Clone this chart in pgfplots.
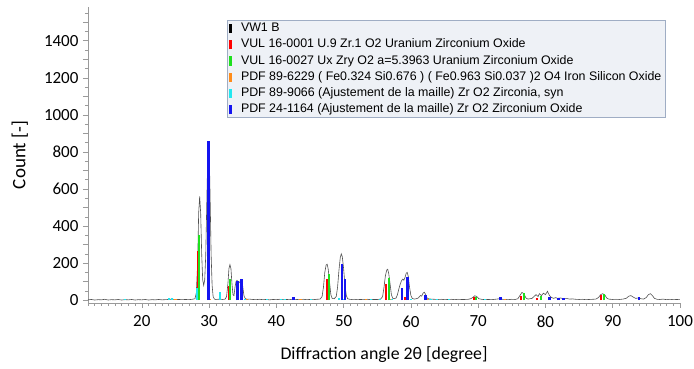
\documentclass[border=0pt]{standalone}
\usepackage{pgfplots}
\pgfplotsset{compat=1.18}
\usepackage{fontspec}
\setmainfont{Carlito}
\newfontfamily\arial{Liberation Sans}
\definecolor{cRed}{HTML}{FF0000}
\definecolor{cGreen}{HTML}{1EE01E}
\definecolor{cOrange}{HTML}{FF8C1A}
\definecolor{cCyan}{HTML}{22E8F0}
\definecolor{cBlue}{HTML}{1414F0}
\definecolor{cCurve}{HTML}{505050}
\definecolor{legFill}{HTML}{EEF1F6}
\definecolor{legDraw}{HTML}{9FADC4}
\definecolor{axGray}{HTML}{9A9A9A}
\begin{document}
\begin{tikzpicture}
\begin{axis}[
  scale only axis, width=592pt, height=296pt,
  xmin=12, xmax=100, ymin=-15, ymax=1582,
  axis lines=left, axis line style={-, axGray, line width=0.6pt},
  tick align=outside, tick style={axGray, line width=0.6pt},
  major tick length=5pt, minor tick length=3pt,
  xtick={20,30,...,100}, minor xtick={12,13,...,100},
  ytick={0,200,...,1400}, minor ytick={0,50,...,1550},
  extra y ticks={100,300,...,1500}, extra y tick labels={},
  extra y tick style={major tick length=5pt},
  /pgf/number format/assume math mode=true,
  /pgf/number format/set thousands separator={},
  tick label style={font=\fontsize{17}{20}\selectfont, black},
  xticklabel style={yshift=-4pt},
  yticklabel style={xshift=-1pt},
  xlabel={Diffraction angle 2θ [degree]},
  ylabel={Count [-]},
  every axis x label/.style={at={(axis description cs:0.5,-0.176)}, anchor=center, font=\fontsize{17.8}{21}\selectfont},
  every axis y label/.style={at={(axis description cs:-0.115,0.5)}, rotate=90, anchor=center, font=\fontsize{19}{22}\selectfont},
  legend image code/.code={\draw[#1, line width=2.6pt] (0pt,-4.6pt) -- (0pt,4.6pt);},
  legend cell align=left,
  legend style={at={(axis description cs:0.2348,0.956)}, anchor=north west,
    fill=legFill, draw=legDraw, line width=0.8pt, font=\arial\fontsize{12.4}{14}\selectfont,
    inner xsep=2pt, inner ysep=0pt, row sep=0pt, column sep=7pt,
    nodes={inner ysep=2.1pt, text height=9.2pt, text depth=2.8pt}},
]
% measured pattern
\addplot[cCurve, line width=0.6pt, forget plot] coordinates {
(12.0,2)(12.5,4)(13.0,1)(13.5,3)(14.0,2)(14.5,5)(15.0,1)(15.5,3)(16.0,2)(16.5,4)
(17.0,1)(17.5,3)(18.0,2)(18.5,4)(19.0,1)(19.5,3)(20.0,2)(20.5,4)(21.0,1)(21.5,3)
(22.0,2)(22.5,4)(23.0,2)(23.5,3)(24.0,4)(24.5,6)(25.0,3)(25.5,4)(26.0,3)(26.5,4)
(27.0,3)(27.5,5)(27.9,8)(28.1,40)(28.3,200)(28.45,470)(28.6,560)(28.75,470)(28.9,250)
(29.05,110)(29.2,80)(29.35,110)(29.5,240)(29.7,600)(29.85,850)(30.0,840)(30.15,560)
(30.3,250)(30.45,80)(30.6,20)(30.8,6)(31.0,4)(31.3,5)(31.6,6)(32.0,4)(32.4,6)
(32.6,20)(32.8,90)(32.95,170)(33.1,192)(33.25,170)(33.4,90)(33.55,30)(33.7,25)
(33.85,70)(34.0,100)(34.15,107)(34.3,100)(34.45,95)(34.6,100)(34.75,112)(34.9,105)
(35.05,60)(35.2,22)(35.4,8)(35.7,5)(36.0,6)(36.5,4)(37.0,3)(37.5,5)(38.0,3)(38.5,4)
(39.0,2)(39.5,4)(40.0,3)(40.5,5)(41.0,3)(41.5,4)(42.0,3)(42.5,6)(43.0,4)(43.5,3)
(44.0,5)(44.5,3)(45.0,4)(45.5,3)(46.0,5)(46.5,6)(46.8,20)(47.0,70)(47.2,150)(47.4,190)
(47.55,194)(47.7,170)(47.9,100)(48.1,30)(48.3,10)(48.6,8)(48.9,20)(49.1,70)(49.3,160)
(49.5,230)(49.65,250)(49.8,235)(50.0,170)(50.2,80)(50.4,25)(50.6,8)(50.9,5)(51.2,4)
(51.6,5)(52.0,3)(52.5,4)(53.0,3)(53.5,5)(54.0,3)(54.5,4)(55.0,4)(55.5,6)(55.8,20)
(56.0,70)(56.2,130)(56.4,162)(56.55,167)(56.7,145)(56.9,90)(57.1,30)(57.3,10)(57.5,8)
(57.8,12)(58.0,30)(58.2,60)(58.4,85)(58.6,105)(58.8,114)(58.95,108)(59.1,120)(59.3,145)
(59.45,150)(59.6,130)(59.8,70)(60.0,25)(60.2,10)(60.5,6)(60.8,8)(61.1,12)(61.4,25)
(61.6,22)(61.8,38)(62.0,43)(62.2,30)(62.4,12)(62.6,8)(63.0,6)(63.5,5)(64.0,4)(64.5,5)
(65.0,3)(65.5,4)(66.0,5)(66.5,3)(67.0,5)(67.5,4)(68.0,4)(68.5,5)(68.9,8)(69.2,15)
(69.5,24)(69.8,20)(70.1,8)(70.5,5)(71.0,3)(71.5,4)(72.0,3)(72.5,5)(73.0,7)(73.3,10)
(73.6,5)(74.0,4)(74.5,3)(75.0,5)(75.5,4)(75.9,8)(76.2,25)(76.5,42)(76.8,35)(77.1,12)
(77.4,6)(77.7,8)(78.0,10)(78.3,20)(78.6,30)(78.9,20)(79.1,35)(79.4,25)(79.7,38)(80.0,30)
(80.3,48)(80.6,25)(80.9,15)(81.2,10)(81.5,14)(81.8,10)(82.2,12)(82.5,10)(82.8,8)(83.2,9)
(83.6,6)(84.0,7)(84.5,5)(85.0,4)(85.5,5)(86.0,3)(86.5,4)(87.0,5)(87.5,6)(87.9,15)
(88.2,30)(88.5,35)(88.8,30)(89.1,12)(89.4,6)(90.0,4)(90.5,5)(91.0,4)(91.5,6)(92.0,10)
(92.4,22)(92.7,25)(93.0,18)(93.4,10)(93.8,12)(94.2,8)(94.6,6)(95.0,15)(95.3,30)(95.6,35)
(95.9,25)(96.2,10)(96.6,5)(97.0,4)(97.5,6)(98.0,3)(98.5,5)(99.0,3)(99.5,4)(100.0,3)
};
% VUL 16-0001
\addplot[ycomb, cRed, line width=2.2pt, forget plot] coordinates {
(28.4,267)(33.0,78)(47.5,114)(56.35,87)(59.15,16)(69.4,15)(76.4,25)(78.7,12)(88.2,28)};
% VUL 16-0027
\addplot[ycomb, cGreen, line width=2.2pt, forget plot] coordinates {
(28.55,352)(33.15,115)(47.85,144)(56.8,119)(69.7,18)(76.8,38)(79.3,25)(88.7,34)};
% PDF 89-6229
\addplot[ycomb, cOrange, line width=2.2pt, forget plot] coordinates {
(25.0,5)(30.1,4)(35.6,6)(43.6,5)(53.3,4)(57.0,5)(62.6,6)(74.0,4)};
% PDF 89-9066
\addplot[ycomb, cCyan, line width=2.2pt, forget plot] coordinates {
(17.5,5)(24.1,12)(24.5,10)(28.2,64)(31.6,43)(34.2,10)(35.3,8)(38.6,5)(40.7,6)(41.3,6)
(45.2,6)(49.3,10)(50.1,8)(54.1,5)(55.4,6)(57.2,5)(60.0,5)(62.9,5)(63.9,4)(65.7,4)(71.0,4)};
% PDF 24-1164
\addplot[ycomb, cBlue, line width=2.6pt, forget plot] coordinates {
(29.95,860)(34.25,106)(34.85,116)(42.55,16)(49.75,194)(50.2,114)(58.65,66)(59.5,126)
(62.15,30)(73.3,15)(80.6,18)(81.9,10)(82.7,12)(93.9,15)};
\addlegendimage{black}\addlegendentry{VW1 B}
\addlegendimage{cRed}\addlegendentry{VUL 16-0001 U.9 Zr.1 O2 Uranium Zirconium Oxide}
\addlegendimage{cGreen}\addlegendentry{VUL 16-0027 Ux Zry O2 a=5.3963 Uranium Zirconium Oxide}
\addlegendimage{cOrange}\addlegendentry{PDF 89-6229 ( Fe0.324 Si0.676 ) ( Fe0.963 Si0.037 )2 O4 Iron Silicon Oxide\hspace{5pt}}
\addlegendimage{cCyan}\addlegendentry{PDF 89-9066 (Ajustement de la maille) Zr O2 Zirconia, syn}
\addlegendimage{cBlue}\addlegendentry{PDF 24-1164 (Ajustement de la maille) Zr O2 Zirconium Oxide}
\end{axis}
\pgfresetboundingbox
\path[use as bounding box] (-88pt,-66pt) rectangle (606pt,303pt);
\end{tikzpicture}
\end{document}
